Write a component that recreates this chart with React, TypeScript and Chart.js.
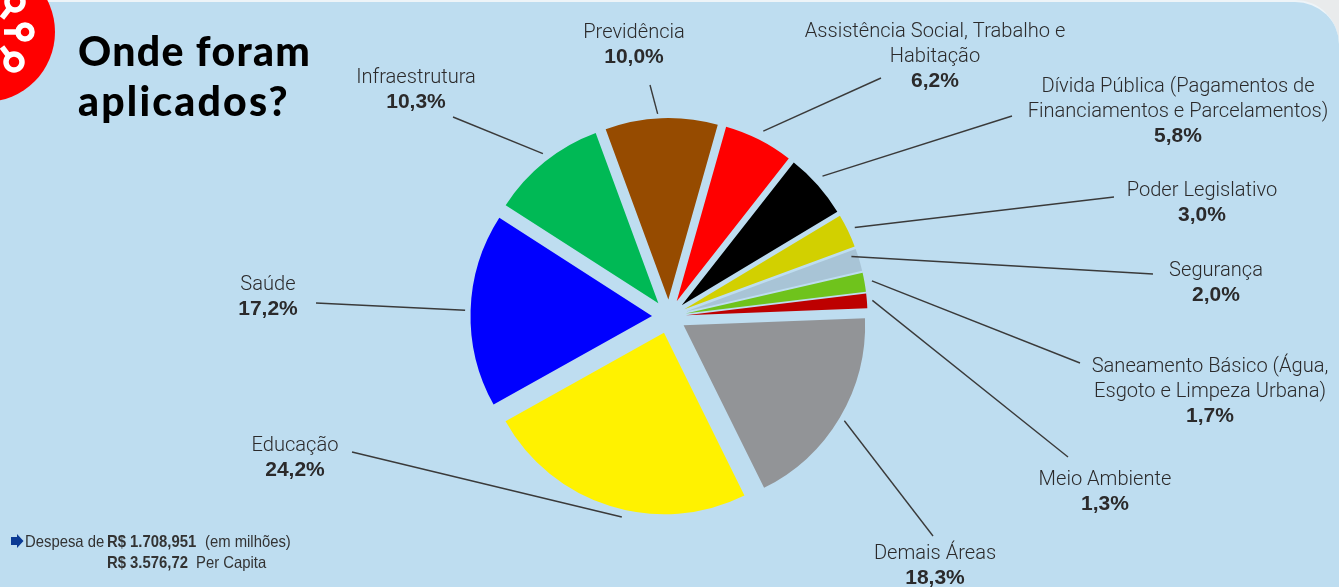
import React, { useEffect, useRef } from "react";
import { Chart, registerables } from "chart.js";

Chart.register(...registerables);

const categories = ["Demais Áreas","Educação","Saúde","Infraestrutura","Previdência","Assistência Social, Trabalho e Habitação","Dívida Pública (Pagamentos de Financiamentos e Parcelamentos)","Poder Legislativo","Segurança","Saneamento Básico (Água, Esgoto e Limpeza Urbana)","Meio Ambiente"];
const shares = [18.3,24.2,17.2,10.3,10.0,6.2,5.8,3.0,2.0,1.7,1.3];
const valueLabels = ["18,3%","24,2%","17,2%","10,3%","10,0%","6,2%","5,8%","3,0%","2,0%","1,7%","1,3%"];
const sliceColors = ["#929497","#FFF200","#0000FF","#00B955","#964B00","#FF0000","#000000","#D2D000","#A8C4D6","#6FC31C","#BD0000"];
const nameLines = [["Demais Áreas"],["Educação"],["Saúde"],["Infraestrutura"],["Previdência"],["Assistência Social, Trabalho e","Habitação"],["Dívida Pública (Pagamentos de","Financiamentos e Parcelamentos)"],["Poder Legislativo"],["Segurança"],["Saneamento Básico (Água,","Esgoto e Limpeza Urbana)"],["Meio Ambiente"]];
const labelCenterX = [935,295,268,416,634,935,1178,1202,1216,1210,1105];
const labelFirstY = [554,446,285,78,33,32,87,191,271,367,480];
const leaderOuter = [[933,536],[352,452],[316,303],[453,117],[650,85],[881,78],[1012,116],[1114,197],[1153,274],[1080,363],[1068,457]];
const leaderReach = [204,206,204,206,203,208,208,206,192,206,204];
const leaderTilt = [0,-4,0,1,-1,0,-1,0,-1.6,0,0];

const RADIUS = 181.5;
const EXPLODE = 17;
const ROTATION = 87.8;
const LINE_H = 25;
const TEXT = "#2b2a2b";

const piePlugin = {
  id: "piePlugin",
  beforeDatasetsDraw(chart: any) {
    // Explode every slice outwards along its own mid-angle, at an unchanged radius.
    const a = chart.chartArea;
    const cx = (a.left + a.right) / 2;
    const cy = (a.top + a.bottom) / 2;
    chart.getDatasetMeta(0).data.forEach((el: any) => {
      const mid = (el.startAngle + el.endAngle) / 2;
      el.x = cx + Math.cos(mid) * EXPLODE;
      el.y = cy + Math.sin(mid) * EXPLODE;
    });
  },
  afterDatasetsDraw(chart: any) {
    const ctx = chart.ctx;
    const a = chart.chartArea;
    const cx = (a.left + a.right) / 2;
    const cy = (a.top + a.bottom) / 2;
    const arcs = chart.getDatasetMeta(0).data;
    ctx.save();
    ctx.strokeStyle = "#3a3a3a";
    ctx.lineWidth = 1.4;
    arcs.forEach((el: any, i: number) => {
      const mid = (el.startAngle + el.endAngle) / 2 + (leaderTilt[i] * Math.PI) / 180;
      ctx.beginPath();
      ctx.moveTo(cx + Math.cos(mid) * leaderReach[i], cy + Math.sin(mid) * leaderReach[i]);
      ctx.lineTo(leaderOuter[i][0], leaderOuter[i][1]);
      ctx.stroke();
    });
    ctx.textAlign = "center";
    ctx.textBaseline = "middle";
    ctx.fillStyle = TEXT;
    categories.forEach((_, i) => {
      const lines = nameLines[i];
      ctx.font = "300 20.1px Roboto";
      lines.forEach((t, k) => ctx.fillText(t, labelCenterX[i], labelFirstY[i] + k * LINE_H));
      ctx.font = "700 21px 'Liberation Sans'";
      ctx.fillText(valueLabels[i], labelCenterX[i], labelFirstY[i] + lines.length * LINE_H - 0.5);
    });
    ctx.restore();
  },
};

const abs = (left: number, top: number, extra: any = {}) => ({ position: "absolute", left, top, whiteSpace: "nowrap", ...extra });

export default function App() {
  const ref = useRef<HTMLCanvasElement>(null);
  useEffect(() => {
    const chart = new Chart(ref.current!, {
      type: "pie",
      data: {
        labels: categories,
        datasets: [{ data: shares, backgroundColor: sliceColors, borderWidth: 0, hoverOffset: 0, clip: false } as any],
      },
      options: {
        animation: false,
        responsive: false,
        events: [],
        rotation: ROTATION,
        radius: RADIUS,
        layout: { padding: { top: 46, right: 1, left: 0, bottom: 0 } },
        plugins: { legend: { display: false }, tooltip: { enabled: false }, title: { display: false } },
      } as any,
      plugins: [piePlugin],
    });
    return () => chart.destroy();
  }, []);

  const foot = { fontFamily: "'Liberation Sans',sans-serif", fontSize: 16.5, lineHeight: "18px", color: "#333", transform: "scaleX(0.9)", transformOrigin: "left center" };
  const title = { fontFamily: "Lato, sans-serif", fontWeight: 900, fontSize: 41, lineHeight: "50px", color: "#000" };
  return (
    <div style={{ position: "fixed", left: 0, top: 0, width: 1339, height: 587, overflow: "hidden", background: "#E9EBEC" }}>
      <div style={{ position: "absolute", left: 0, top: 0, width: 1339, height: 587, background: "#BEDDF0", borderTop: "2px solid #EEF4F8", boxSizing: "border-box", borderTopRightRadius: 44 }} />
      <svg width={80} height={110} style={{ position: "absolute", left: 0, top: 0 }}>
        <circle cx={-15} cy={32} r={70} fill="#FF0000" />
        <g fill="none" stroke="#fff" strokeWidth={5.5}>
          <circle cx={25} cy={32} r={7} />
          <path d="M4 32H18" />
          <circle cx={14} cy={62} r={8} />
          <path d="M2 47L8 55" />
          <circle cx={15} cy={2} r={8} />
          <path d="M2 18L9 9" />
        </g>
      </svg>
      <canvas ref={ref} width={1339} height={587} style={{ position: "absolute", left: 0, top: 0, display: "block" }} />
      <div style={abs(78, 26, { ...title, letterSpacing: 1.3 }) as any}>Onde foram</div>
      <div style={abs(78, 76, { ...title, letterSpacing: 2.2 }) as any}>aplicados?</div>
      <svg width={16} height={16} style={{ position: "absolute", left: 10, top: 533 }}>
        <path d="M1 4H7V1L13.5 8L7 15V12H1Z" fill="#0B3A94" />
      </svg>
      <div style={abs(25, 532, foot) as any}>Despesa de</div>
      <div style={abs(107, 532, { ...foot, fontWeight: 700 }) as any}>R$ 1.708,951</div>
      <div style={abs(205, 532, foot) as any}>(em milhões)</div>
      <div style={abs(107, 553, { ...foot, fontWeight: 700 }) as any}>R$ 3.576,72</div>
      <div style={abs(196, 553, foot) as any}>Per Capita</div>
    </div>
  );
}
